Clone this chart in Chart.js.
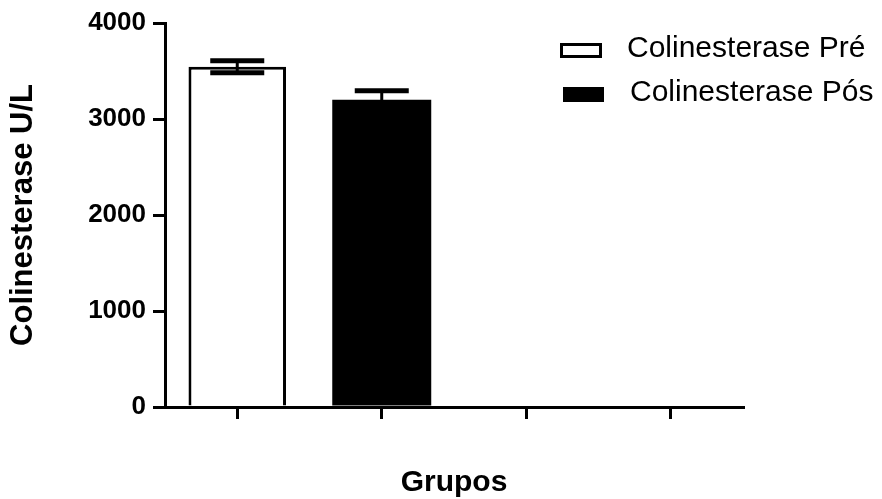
<!DOCTYPE html>
<html>
<head>
<meta charset="utf-8">
<script src="https://cdn.jsdelivr.net/npm/chart.js@4/dist/chart.umd.min.js"></script>
<style>
  html, body { margin: 0; padding: 0; background: #fff; }
  #wrap { width: 882px; height: 499px; }
</style>
</head>
<body>
<div id="wrap"><canvas id="c" width="882" height="499"></canvas></div>
<script>
const categories = ['', '', '', ''];
const seriesLabels = ['Colinesterase Pré', 'Colinesterase Pós'];
const preValues = [3545, null, null, null];
const posValues = [null, 3200, null, null];
const preErrors = [63, null, null, null];
const posErrors = [null, 95, null, null];
const yTicks = [0, 1000, 2000, 3000, 4000];
const yTitle = 'Colinesterase U/L';
const xTitle = 'Grupos';

const FONT = "'Liberation Sans', Arial, Helvetica, sans-serif";

const errorBarPlugin = {
  id: 'errorBars',
  afterDatasetsDraw(chart) {
    const ctx = chart.ctx;
    const yScale = chart.scales.y;
    chart.data.datasets.forEach((ds, di) => {
      const meta = chart.getDatasetMeta(di);
      meta.data.forEach((el, i) => {
        const v = ds.data[i];
        const e = ds.errors ? ds.errors[i] : null;
        if (v == null || e == null) return;
        const x = el.x;
        const yHi = yScale.getPixelForValue(v + e);
        const yLo = yScale.getPixelForValue(v - e);
        ctx.save();
        ctx.strokeStyle = '#000';
        ctx.lineWidth = 3;
        ctx.beginPath();
        ctx.moveTo(x, yLo);
        ctx.lineTo(x, yHi);
        ctx.stroke();
        ctx.lineWidth = 5;
        const half = 27;
        ctx.beginPath();
        ctx.moveTo(x - half, yHi);
        ctx.lineTo(x + half, yHi);
        ctx.moveTo(x - half, yLo);
        ctx.lineTo(x + half, yLo);
        ctx.stroke();
        ctx.restore();
      });
    });
  }
};

const legendPlugin = {
  id: 'customLegend',
  afterDraw(chart) {
    const ctx = chart.ctx;
    const rows = [
      { bx: 561.5, by: 44.5, tx: 627, ty: 49 },
      { bx: 563, by: 87, tx: 630, ty: 93 }
    ];
    chart.data.datasets.forEach((ds, i) => {
      const r = rows[i];
      ctx.save();
      if (i === 0) {
        ctx.fillStyle = '#fff';
        ctx.fillRect(r.bx, r.by, 39, 12);
        ctx.strokeStyle = '#000';
        ctx.lineWidth = 3;
        ctx.strokeRect(r.bx, r.by, 39, 12);
      } else {
        ctx.fillStyle = '#000';
        ctx.fillRect(r.bx, r.by, 41, 15);
      }
      ctx.fillStyle = '#000';
      ctx.font = "30px " + FONT;
      ctx.textBaseline = 'middle';
      ctx.textAlign = 'left';
      ctx.fillText(ds.label, r.tx, r.ty);
      ctx.restore();
    });
  }
};

new Chart(document.getElementById('c'), {
  type: 'bar',
  data: {
    labels: categories,
    datasets: [
      {
        label: seriesLabels[0],
        data: preValues,
        errors: preErrors,
        backgroundColor: '#ffffff',
        borderColor: '#000000',
        borderWidth: 3,
        borderSkipped: 'start',
        grouped: false,
        barPercentage: 0.675,
        categoryPercentage: 1.0
      },
      {
        label: seriesLabels[1],
        data: posValues,
        errors: posErrors,
        backgroundColor: '#000000',
        borderColor: '#000000',
        borderWidth: 0,
        grouped: false,
        barPercentage: 0.685,
        categoryPercentage: 1.0
      }
    ]
  },
  options: {
    responsive: false,
    animation: false,
    devicePixelRatio: 1,
    layout: { padding: { top: 23, right: 139, bottom: 0, left: 0 } },
    plugins: {
      legend: { display: false },
      tooltip: { enabled: false }
    },
    scales: {
      x: {
        offset: true,
        grid: {
          offset: false,
          drawOnChartArea: false,
          drawTicks: true,
          tickLength: 12,
          lineWidth: 3,
          color: '#000'
        },
        border: { display: true, width: 3, color: '#000' },
        ticks: { display: true, font: { family: FONT, size: 26, weight: 'bold' }, color: '#000', padding: 0 },
        title: {
          display: true,
          text: xTitle,
          color: '#000',
          font: { family: FONT, size: 30, weight: 'bold' },
          padding: { top: 0, bottom: -2 }
        },
        afterFit(scale) { scale.height = 92; }
      },
      y: {
        min: 0,
        max: 4000,
        afterBuildTicks(scale) { scale.ticks = yTicks.map(v => ({ value: v })); },
        grid: {
          drawOnChartArea: false,
          drawTicks: true,
          tickLength: 12,
          lineWidth: 3,
          color: '#000'
        },
        border: { display: true, width: 3, color: '#000' },
        ticks: {
          color: '#000',
          padding: 7,
          font: { family: FONT, size: 26, weight: 'bold' },
          callback: (v) => String(v)
        },
        title: {
          display: true,
          text: yTitle,
          color: '#000',
          font: { family: FONT, size: 31, weight: 'bold' },
          padding: { top: 5, bottom: 0 }
        },
        afterFit(scale) { scale.width = 165; }
      }
    }
  },
  plugins: [errorBarPlugin, legendPlugin]
});
</script>
</body>
</html>
